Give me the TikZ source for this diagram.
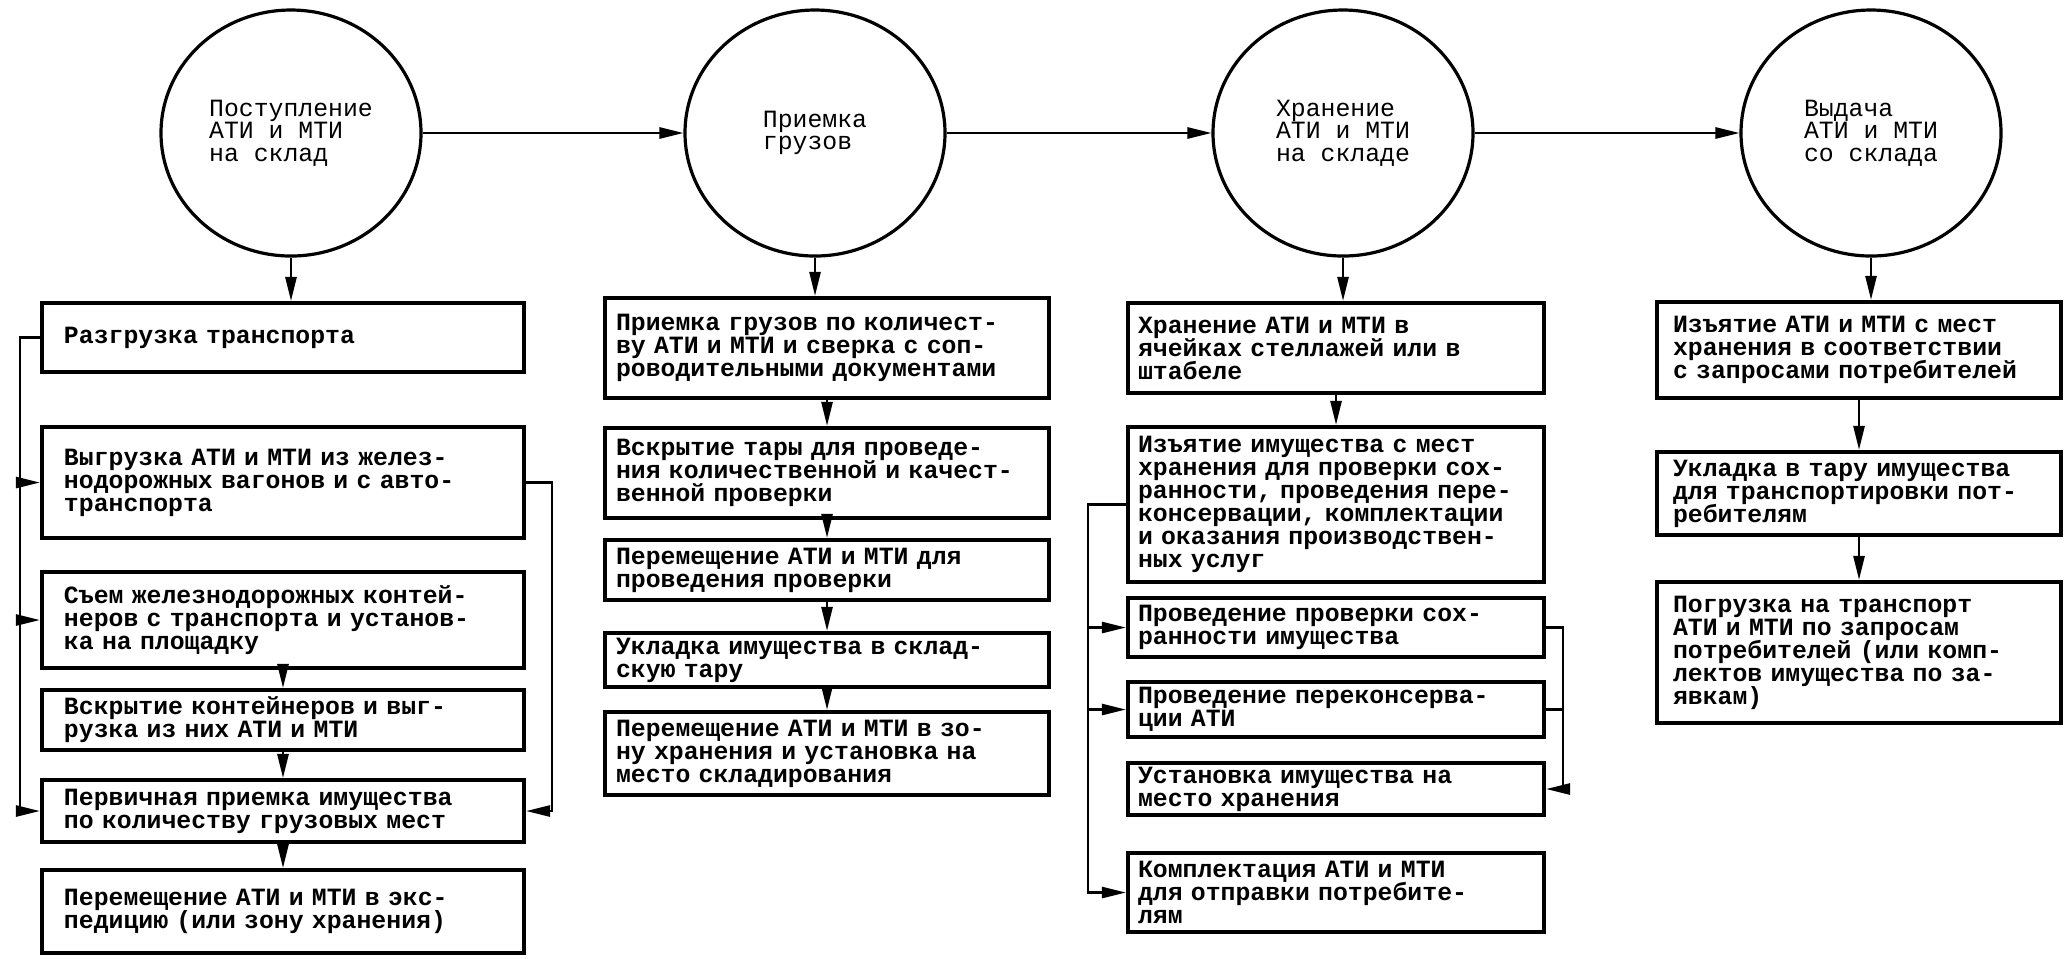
\documentclass[tikz,border=0pt]{standalone}
\usepackage{fontspec}
\setmonofont{Liberation Mono}
\usetikzlibrary{shapes.geometric,arrows.meta}

\begin{document}
\begin{tikzpicture}[x=0.25pt, y=-0.25pt,
	tappa/.style={ellipse, draw, line width=0.8pt, minimum width=65pt, minimum height=61.5pt, inner sep=0pt, align=left, font={\ttfamily\fontsize{6.2pt}{5.6pt}\selectfont}},
	blocco/.style={rectangle, draw, line width=1.1pt, inner ysep=1pt, align=left, font={\ttfamily\bfseries\fontsize{6.2pt}{5.75pt}\selectfont\lineskiplimit=-5pt}},
	col1/.style={blocco, text width=109.5pt, inner xsep=5.5pt},
	col2/.style={blocco, text width=105.5pt, inner xsep=2.75pt},
	col3/.style={blocco, text width=99pt, inner xsep=2.5pt},
	col4/.style={blocco, text width=93pt, inner xsep=4pt},
	freccia/.style={-{Triangle[length=6pt, width=2.8pt]}, line width=0.55pt},
	linea/.style={line width=0.55pt}]
	\useasboundingbox (0,0) rectangle (2066,958);
			\begin{scope}
				\node[tappa] (post) at (291,133) {Поступление\\АТИ и МТИ\\на склад};
				\node[tappa] (priem) at (815,133) {Приемка\\грузов};
				\node[tappa] (hran) at (1343,133) {Хранение\\АТИ и МТИ\\на складе};
				\node[tappa] (vyd) at (1871,133) {Выдача\\АТИ и МТИ\\со склада};

				\draw[freccia] (post) -- (priem); % da 1 a 2
				\draw[freccia] (priem) -- (hran); % da 2 a 3
				\draw[freccia] (hran) -- (vyd); % da 3 a 4

				% colonna 1
				\node[col1, minimum height=17.25pt] (post1) at (283,337.5) {Разгрузка транспорта};
				\node[col1, minimum height=27.75pt] (post2) at (283,482.5) {Выгрузка АТИ и МТИ из желез-\\нодорожных вагонов и с авто-\\транспорта};
				\node[col1, minimum height=24pt] (post3) at (283,620) {Съем железнодорожных контей-\\неров с транспорта и установ-\\ка на площадку};
				\node[col1, minimum height=15pt] (post4) at (283,720) {Вскрытие контейнеров и выг-\\рузка из них АТИ и МТИ};
				\node[col1, minimum height=15.5pt] (post5) at (283,811) {Первичная приемка имущества\\по количеству грузовых мест};
				\node[col1, minimum height=20.75pt] (post6) at (283,911.5) {Перемещение АТИ и МТИ в экс-\\педицию (или зону хранения)};

				\coordinate (bus1) at (20,600);
				\coordinate (bus2) at (552,600);
				\draw[freccia] (post) -- (post |- post1.north);
				\draw[freccia] (post1.west) -| (bus1) |- (post5.west);
				\draw[freccia] (bus1 |- post2.west) -- (post2.west);
				\draw[freccia] (bus1 |- post3.west) -- (post3.west);
				\draw[freccia] (post2.east) -| (bus2) |- (post5.east);
				\draw[freccia] (post3) -- (post4);
				\draw[freccia] (post4) -- (post5);
				\draw[freccia] (post5) -- (post6);

				% colonna 2
				\node[col2, minimum height=25pt] (priem1) at (827,348) {Приемка грузов по количест-\\ву АТИ и МТИ и сверка с соп-\\роводительными документами};
				\node[col2, minimum height=22.5pt] (priem2) at (827,473) {Вскрытие тары для проведе-\\ния количественной и качест-\\венной проверки};
				\node[col2, minimum height=15pt] (priem3) at (827,570) {Перемещение АТИ и МТИ для\\проведения проверки};
				\node[col2, minimum height=13.5pt] (priem4) at (827,660) {Укладка имущества в склад-\\скую тару};
				\node[col2, minimum height=20.75pt] (priem5) at (827,753.5) {Перемещение АТИ и МТИ в зо-\\ну хранения и установка на\\место складирования};

				\draw[freccia] (priem) -- (priem |- priem1.north);
				\draw[freccia] (priem1) -- (priem2);
				\draw[freccia] (priem2) -- (priem3);
				\draw[freccia] (priem3) -- (priem4);
				\draw[freccia] (priem4) -- (priem5);

				% colonna 3
				\node[col3, minimum height=22.5pt] (hran1) at (1336,348) {Хранение АТИ и МТИ в\\ячейках стеллажей или в\\штабеле};
				\node[col3, minimum height=38.75pt] (hran2) at (1336,504.5) {Изъятие имущества с мест\\хранения для проверки сох-\\ранности, проведения пере-\\консервации, комплектации\\и оказания производствен-\\ных услуг};
				\node[col3, minimum height=14.75pt] (hran3) at (1336,627.5) {Проведение проверки сох-\\ранности имущества};
				\node[col3, minimum height=13.75pt] (hran4) at (1336,709.5) {Проведение переконсерва-\\ции АТИ};
				\node[col3, minimum height=13pt] (hran5) at (1336,789) {Установка имущества на\\место хранения};
				\node[col3, minimum height=19.75pt] (hran6) at (1336,892.5) {Комплектация АТИ и МТИ\\для отправки потребите-\\лям};

				\coordinate (bus3) at (1088,700);
				\coordinate (bus4) at (1563,700);
				\draw[freccia] (hran) -- (hran |- hran1.north);
				\draw[freccia] (hran1) -- (hran2);
				\draw[freccia] (hran2.west) -| (bus3) |- (hran6.west);
				\draw[freccia] (bus3 |- hran3.west) -- (hran3.west);
				\draw[freccia] (bus3 |- hran4.west) -- (hran4.west);
				\draw[freccia] (hran3.east) -| (bus4) |- (hran5.east);
				\draw[linea] (hran4.east) -- (bus4 |- hran4.east);

				% colonna 4
				\node[col4, minimum height=24pt] (vyd1) at (1859,350) {Изъятие АТИ и МТИ с мест\\хранения в соответствии\\с запросами потребителей};
				\node[col4, minimum height=20.75pt] (vyd2) at (1859,493.5) {Укладка в тару имущества\\для транспортировки пот-\\ребителям};
				\node[col4, minimum height=35.25pt] (vyd3) at (1859,652.5) {Погрузка на транспорт\\АТИ и МТИ по запросам\\потребителей (или комп-\\лектов имущества по за-\\явкам)};

				\draw[freccia] (vyd) -- (vyd |- vyd1.north);
				\draw[freccia] (vyd1) -- (vyd2);
				\draw[freccia] (vyd2) -- (vyd3);
			\end{scope}
\end{tikzpicture}
\end{document}
